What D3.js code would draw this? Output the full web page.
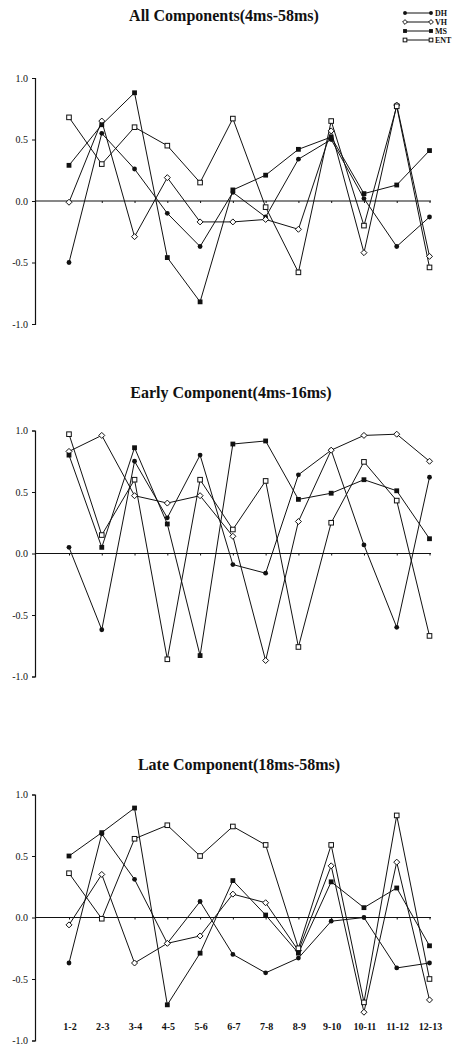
<!DOCTYPE html>
<html>
<head>
<meta charset="utf-8">
<script src="https://cdn.jsdelivr.net/npm/d3@7"></script>
<style>
  html, body { margin: 0; padding: 0; background: #fff; }
  svg { display: block; }
  text { font-family: "Liberation Serif", "DejaVu Serif", serif; fill: #111; }
</style>
</head>
<body>
<svg id="chart" width="463" height="1045"></svg>
<script>
// ---------- data ----------
const categories = ["1-2","2-3","3-4","4-5","5-6","6-7","7-8","8-9","9-10","10-11","11-12","12-13"];
const seriesNames = ["DH","VH","MS","ENT"];
const yTicks = [1.0, 0.5, 0.0, -0.5, -1.0];
const panelTitles = ["All Components(4ms-58ms)","Early Component(4ms-16ms)","Late Component(18ms-58ms)"];

const allDH  = [-0.50, 0.55, 0.26, -0.10, -0.37, 0.07, -0.13, 0.34, 0.50, 0.02, -0.37, -0.13];
const allVH  = [-0.01, 0.65, -0.29, 0.19, -0.17, -0.17, -0.15, -0.23, 0.57, -0.42, 0.78, -0.45];
const allMS  = [0.29, 0.62, 0.88, -0.46, -0.82, 0.09, 0.21, 0.42, 0.52, 0.06, 0.13, 0.41];
const allENT = [0.68, 0.30, 0.60, 0.45, 0.15, 0.67, -0.05, -0.58, 0.65, -0.20, 0.77, -0.54];

const earlyDH  = [0.05, -0.62, 0.75, 0.29, 0.80, -0.09, -0.16, 0.64, 0.84, 0.07, -0.60, 0.62];
const earlyVH  = [0.83, 0.96, 0.47, 0.41, 0.47, 0.14, -0.87, 0.26, 0.84, 0.96, 0.97, 0.75];
const earlyMS  = [0.80, 0.05, 0.86, 0.24, -0.83, 0.89, 0.915, 0.44, 0.49, 0.60, 0.51, 0.12];
const earlyENT = [0.97, 0.15, 0.60, -0.86, 0.60, 0.195, 0.59, -0.76, 0.25, 0.745, 0.43, -0.67];

const lateDH  = [-0.37, 0.68, 0.31, -0.21, 0.13, -0.30, -0.45, -0.33, -0.03, 0.00, -0.41, -0.37];
const lateVH  = [-0.06, 0.35, -0.37, -0.21, -0.15, 0.19, 0.12, -0.27, 0.42, -0.77, 0.45, -0.67];
const lateMS  = [0.50, 0.69, 0.89, -0.71, -0.29, 0.30, 0.02, -0.29, 0.29, 0.08, 0.24, -0.23];
const lateENT = [0.36, -0.01, 0.64, 0.75, 0.50, 0.74, 0.59, -0.25, 0.59, -0.69, 0.83, -0.50];

// ---------- layout ----------
const panels = [
  { title: panelTitles[0], zero: 201, titleX: 224, titleY: 21,  series: [allDH, allVH, allMS, allENT] },
  { title: panelTitles[1], zero: 553.5, titleX: 231, titleY: 398, series: [earlyDH, earlyVH, earlyMS, earlyENT] },
  { title: panelTitles[2], zero: 917.5, titleX: 239, titleY: 770, series: [lateDH, lateVH, lateMS, lateENT] }
];
const unit = 123;
const axisX = 35;
const svg = d3.select("#chart");
const x = d3.scalePoint().domain(categories).range([69, 429.5]);

function drawMarker(g, name, cx, cy, k = 1) {
  if (name === "DH") {
    g.append("circle").attr("cx", cx).attr("cy", cy).attr("r", 2.4 * k).attr("fill", "#111");
  } else if (name === "VH") {
    const s = 3 * k;
    g.append("path").attr("d", `M${cx},${cy-s}L${cx+s},${cy}L${cx},${cy+s}L${cx-s},${cy}Z`)
      .attr("fill", "#fff").attr("stroke", "#111").attr("stroke-width", 1);
  } else if (name === "MS") {
    const s = 2.4 * k;
    g.append("rect").attr("x", cx-s).attr("y", cy-s).attr("width", 2*s).attr("height", 2*s).attr("fill", "#111");
  } else {
    const s = 2.3 * k;
    g.append("rect").attr("x", cx-s).attr("y", cy-s).attr("width", 2*s).attr("height", 2*s)
      .attr("fill", "#fff").attr("stroke", "#111").attr("stroke-width", 1);
  }
}

panels.forEach((p, pi) => {
  const y = d3.scaleLinear().domain([-1, 1]).range([p.zero + unit, p.zero - unit]);
  const g = svg.append("g");

  g.append("text").attr("x", p.titleX).attr("y", p.titleY)
    .attr("text-anchor", "middle").attr("font-size", 16).attr("font-weight", "bold")
    .text(p.title);

  // y axis
  const ya = g.append("g").attr("transform", `translate(${axisX},0)`)
    .call(d3.axisLeft(y).tickValues(yTicks).tickSize(3).tickPadding(4).tickFormat(d => d.toFixed(1)));
  ya.select(".domain").attr("stroke", "#111").attr("stroke-width", 1.2);
  ya.selectAll(".tick line").attr("stroke", "#111");
  ya.selectAll("text").attr("font-size", 10).attr("font-family", "Liberation Serif, serif").attr("fill", "#111");

  // zero line with category ticks
  const xa = g.append("g").attr("transform", `translate(0,${y(0)})`)
    .call(d3.axisBottom(x).tickSize(2).tickSizeOuter(0).tickFormat(""));
  xa.select(".domain").attr("d", `M${axisX},0H${x(categories[categories.length-1]) + 1.5}`)
    .attr("stroke", "#111").attr("stroke-width", 1.2);
  xa.selectAll(".tick line").attr("stroke", "#111");

  // series
  const line = d3.line().x((d, i) => x(categories[i])).y(d => y(d));
  p.series.forEach((vals) => {
    g.append("path").datum(vals).attr("d", line)
      .attr("fill", "none").attr("stroke", "#111").attr("stroke-width", 1);
  });
  p.series.forEach((vals, si) => {
    vals.forEach((v, i) => drawMarker(g, seriesNames[si], x(categories[i]), y(v)));
  });

  // category labels on last panel
  if (pi === 2) {
    g.selectAll(".catlab").data(categories).enter().append("text")
      .attr("x", d => x(d) + 1).attr("y", 1030)
      .attr("text-anchor", "middle").attr("font-size", 10).attr("font-weight", "bold")
      .text(d => d);
  }
});

// legend
const lg = svg.append("g");
const legendY = d3.scalePoint().domain(seriesNames).range([13, 40]);
seriesNames.forEach(n => {
  const yy = legendY(n);
  lg.append("line").attr("x1", 405).attr("x2", 431).attr("y1", yy).attr("y2", yy)
    .attr("stroke", "#111").attr("stroke-width", 1);
  drawMarker(lg, n, 405, yy, 0.8);
  drawMarker(lg, n, 431, yy, 0.8);
  lg.append("text").attr("x", 435).attr("y", yy + 2.8).attr("font-size", 8).attr("font-weight", "bold").text(n);
});
</script>
</body>
</html>
